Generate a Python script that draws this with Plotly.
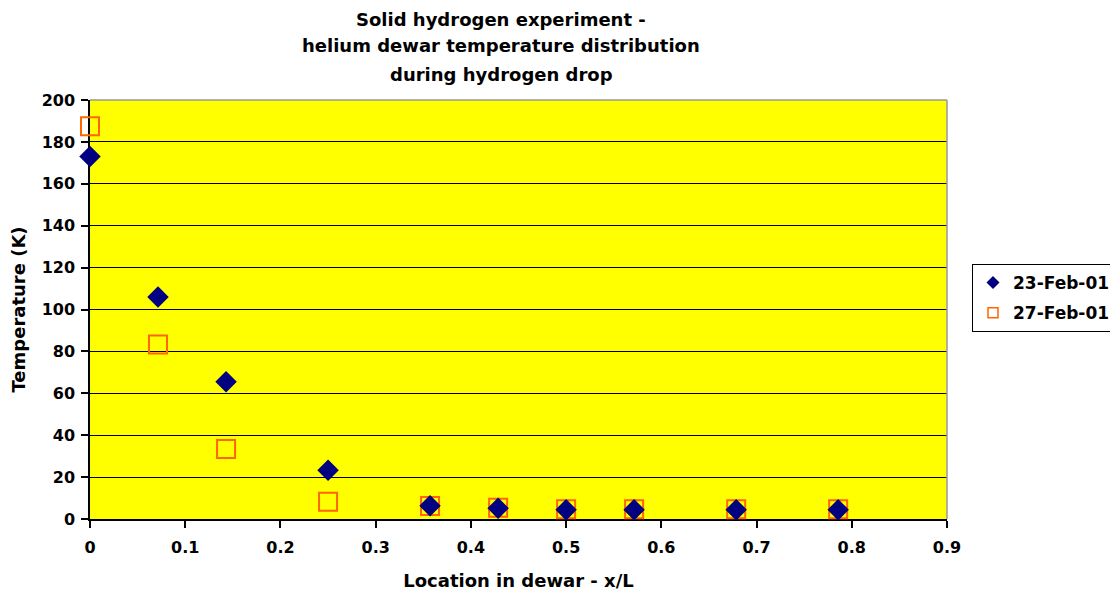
import plotly.graph_objects as go

x_pos = [0.0, 0.0714, 0.1429, 0.25, 0.3571, 0.4286, 0.5, 0.5714, 0.6786, 0.7857]
temp_23feb = [173, 106, 65.5, 23.3, 6.3, 5.1, 4.4, 4.4, 4.4, 4.4]
temp_27feb = [187.5, 83.3, 33.4, 8.2, 6.2, 5.4, 4.6, 4.6, 4.6, 4.6]
series_names = ["23-Feb-01", "27-Feb-01"]
title_lines = ["Solid hydrogen experiment -",
               "helium dewar temperature distribution",
               "during hydrogen drop"]
x_ticks = [0, 0.1, 0.2, 0.3, 0.4, 0.5, 0.6, 0.7, 0.8, 0.9]
x_tick_text = ["0", "0.1", "0.2", "0.3", "0.4", "0.5", "0.6", "0.7", "0.8", "0.9"]

FONT = "DejaVu Sans, Verdana, sans-serif"
NAVY = "#000080"
ORANGE = "#FF6600"

# page body has an 8px default margin; size the figure so it fits the window
BODY = 8
W, H = 1118 - BODY, 597 - BODY
# target plot area on screen: x 90..947, y 100..519
L, R, T, B = 90 - BODY, 1118 - 947, 100 - BODY, 597 - 519
PW, PH = W - L - R, H - T - B


def px_to_paper_x(sx):
    return (sx - 90) / PW


def px_to_paper_y(sy):
    return (519 - sy) / PH


fig = go.Figure()
# data traces (square drawn first so the diamond sits on top)
fig.add_trace(go.Scatter(
    x=x_pos, y=temp_27feb, mode="markers", name=series_names[1],
    marker=dict(symbol="square-open", size=18, color=ORANGE,
                line=dict(width=2, color=ORANGE)),
    cliponaxis=False, showlegend=False))
fig.add_trace(go.Scatter(
    x=x_pos, y=temp_23feb, mode="markers", name=series_names[0],
    marker=dict(symbol="diamond", size=16.5, color=NAVY, line=dict(width=0)),
    cliponaxis=False, showlegend=False))
# legend entries (smaller symbols like the original)
fig.add_trace(go.Scatter(
    x=[None], y=[None], mode="markers", name="<b>" + series_names[0] + "</b>",
    legendgroup="a",
    marker=dict(symbol="diamond", size=10, color=NAVY, line=dict(width=0))))
fig.add_trace(go.Scatter(
    x=[None], y=[None], mode="markers", name="<b>" + series_names[1] + "</b>",
    legendgroup="b",
    marker=dict(symbol="square-open", size=10, color=ORANGE,
                line=dict(width=1.5, color=ORANGE))))

annotations = []
for line, py in zip(title_lines, [19, 46, 74]):
    annotations.append(dict(
        text="<b>" + line + "</b>", xref="paper", yref="paper",
        x=px_to_paper_x(501), y=px_to_paper_y(py),
        xanchor="center", yanchor="middle", showarrow=False,
        font=dict(family=FONT, size=18, color="black")))

fig.update_layout(
    width=W, height=H,
    margin=dict(l=L, r=R, t=T, b=B, autoexpand=False),
    paper_bgcolor="white", plot_bgcolor="#FFFF00",
    font=dict(family=FONT, size=16, color="black"),
    showlegend=True,
    legend=dict(x=px_to_paper_x(972), y=px_to_paper_y(264),
                xanchor="left", yanchor="top",
                bordercolor="black", borderwidth=1, bgcolor="white",
                font=dict(family=FONT, size=17, color="black"),
                tracegroupgap=5, itemwidth=30),
    annotations=annotations,
    xaxis=dict(range=[0, 0.9], tickvals=x_ticks,
               ticktext=["<b>" + t + "</b>" for t in x_tick_text],
               showgrid=False, zeroline=False,
               showline=True, linecolor="black", linewidth=1.5,
               ticks="outside", ticklen=7, tickcolor="black", tickwidth=1.5,
               ticklabelstandoff=6,
               tickfont=dict(family=FONT, size=16, color="black"),
               title=dict(text="<b>Location in dewar - x/L</b>", standoff=18,
                          font=dict(family=FONT, size=18, color="black")),
               layer="below traces", fixedrange=True),
    yaxis=dict(range=[0, 200], dtick=20, tick0=0,
               tickprefix="<b>", ticksuffix="</b>",
               showgrid=True, gridcolor="black", gridwidth=1.3,
               zeroline=False,
               showline=True, linecolor="black", linewidth=1.5,
               ticks="outside", ticklen=7, tickcolor="black", tickwidth=1.5,
               ticklabelstandoff=3,
               tickfont=dict(family=FONT, size=16, color="black"),
               title=dict(text="<b>Temperature (K)</b>", standoff=12,
                          font=dict(family=FONT, size=18, color="black")),
               layer="below traces", fixedrange=True),
    shapes=[
        dict(type="line", xref="paper", yref="paper", x0=0, x1=1, y0=1, y1=1,
             line=dict(color="#999999", width=1.5), layer="above"),
        dict(type="line", xref="paper", yref="paper", x0=1, x1=1, y0=0, y1=1,
             line=dict(color="#999999", width=1.5), layer="above"),
    ],
)

fig.write_html("out.html")
